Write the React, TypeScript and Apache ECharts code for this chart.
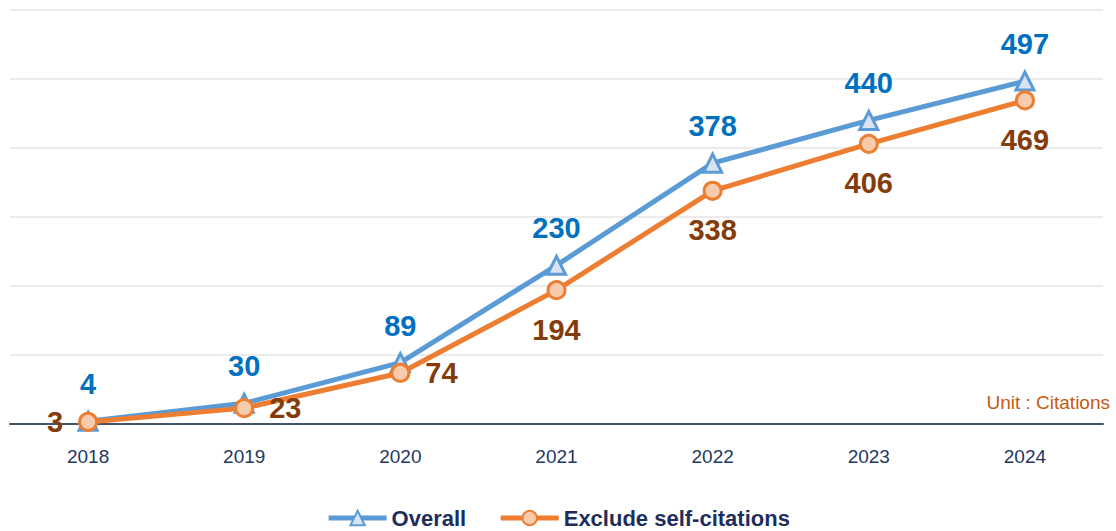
import React, { useEffect, useRef } from "react";
import * as echarts from "echarts";

const years = ["2018", "2019", "2020", "2021", "2022", "2023", "2024"];
const overall = [4, 30, 89, 230, 378, 440, 497];
const excludeSelf = [3, 23, 74, 194, 338, 406, 469];
const excludeLabelPos = ["left", "right", "right", "bottom", "bottom", "bottom", "bottom"];

export default function App() {
  const ref = useRef<HTMLDivElement>(null);
  useEffect(() => {
    if (!ref.current) return;
    const chart = echarts.init(ref.current, undefined, { renderer: "svg" });
    const labelFont = "Liberation Sans, Arial, sans-serif";
    chart.setOption({
      animation: false,
      backgroundColor: "#ffffff",
      grid: { left: 10, right: 13, top: 10, bottom: 107, containLabel: false },
      legend: {
        top: 502,
        left: "center",
        itemWidth: 58,
        itemHeight: 18,
        itemGap: 32,
        textStyle: { fontFamily: labelFont, fontWeight: "bold", fontSize: 22, color: "#1f2d5c" },
        lineStyle: { width: 5 },
        data: ["Overall", "Exclude self-citations"],
      },
      xAxis: {
        type: "category",
        data: years,
        boundaryGap: true,
        axisLine: { lineStyle: { color: "#44546a", width: 2 } },
        axisTick: { show: false },
        axisLabel: {
          margin: 23,
          fontFamily: "Liberation Sans Narrow, Arial Narrow, Liberation Sans, sans-serif",
          fontSize: 19,
          color: "#1f3864",
        },
      },
      yAxis: {
        type: "value",
        min: 0,
        max: 600,
        interval: 100,
        axisLabel: { show: false },
        axisLine: { show: false },
        axisTick: { show: false },
        splitLine: { lineStyle: { color: "#e4e4e4", width: 1.5 } },
      },
      series: [
        {
          name: "Overall",
          type: "line",
          data: overall,
          z: 2,
          lineStyle: { color: "#5b9bd5", width: 5 },
          itemStyle: { color: "#dae3f3", borderColor: "#5b9bd5", borderWidth: 3 },
          symbol: "triangle",
          symbolSize: 18,
          label: {
            show: true,
            position: "top",
            distance: 12,
            fontFamily: labelFont,
            fontWeight: "bold",
            fontSize: 29,
            color: "#0070c0",
          },
        },
        {
          name: "Exclude self-citations",
          type: "line",
          data: excludeSelf.map((v, i) => ({
            value: v,
            label: { position: excludeLabelPos[i] },
          })),
          z: 3,
          lineStyle: { color: "#ed7d31", width: 5 },
          itemStyle: { color: "#f8cbad", borderColor: "#ed7d31", borderWidth: 3 },
          symbol: "circle",
          symbolSize: 17,
          label: {
            show: true,
            distance: 15,
            fontFamily: labelFont,
            fontWeight: "bold",
            fontSize: 29,
            color: "#843c0c",
          },
        },
      ],
      graphic: [
        {
          type: "text",
          right: 6,
          top: 393,
          style: {
            text: "Unit : Citations",
            fontFamily: "Liberation Sans Narrow, Arial Narrow, Liberation Sans, sans-serif",
            fontSize: 19,
            fill: "#c55a11",
          },
        },
      ],
    });
    return () => chart.dispose();
  }, []);
  return (
    <div
      ref={ref}
      style={{ position: "fixed", left: 0, top: 0, width: 1116, height: 531 }}
    />
  );
}
